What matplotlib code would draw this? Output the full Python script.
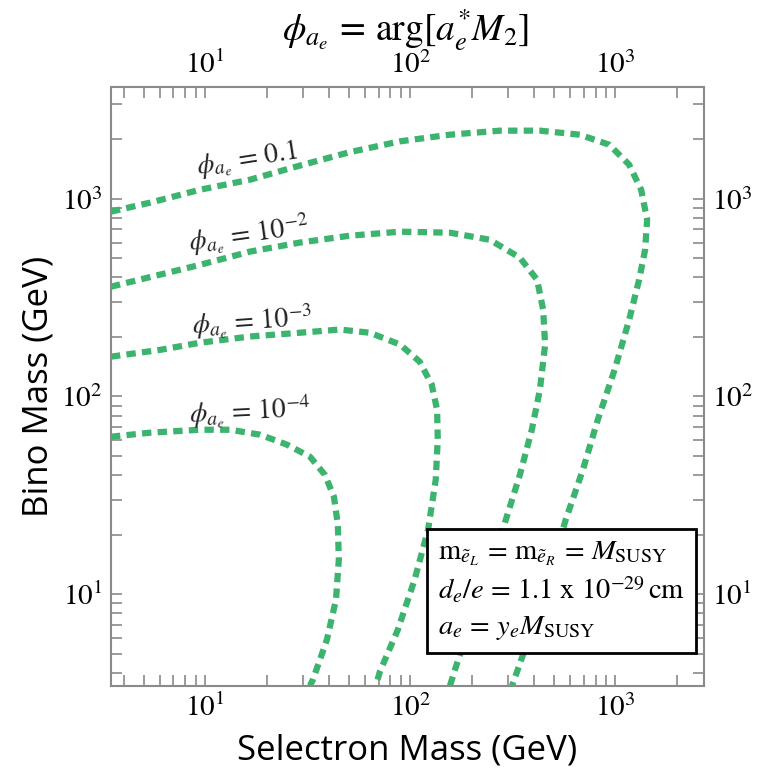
import numpy as np
import matplotlib
matplotlib.use('Agg')
import matplotlib.pyplot as plt
from matplotlib.ticker import LogLocator, NullFormatter

plt.rcParams['mathtext.fontset'] = 'stix'

# contour data: selectron mass (GeV), bino mass (GeV)
sel_1 = [3.47, 5.38, 9.43, 16.5, 28.9, 50.7, 89.1, 156, 274, 428, 670, 932, 1166, 1334,
         1427, 1395, 1304, 1166, 992, 820, 694, 572, 468, 391, 334, 313]
bino_1 = [860, 955, 1110, 1247, 1470, 1720, 1950, 2107, 2208, 2208, 2107, 1875, 1486, 1110,
          783, 552, 389, 244, 137, 76.3, 42.7, 23.8, 11.9, 6.62, 4.16, 3.45]

sel_2 = [3.47, 6.01, 9.43, 16.5, 28.9, 50.7, 89.1, 156, 244, 342, 415, 444, 454,
         428, 391, 342, 292, 244, 199, 165, 156]
bino_2 = [359, 413, 463, 540, 600, 650, 681, 673, 620, 503, 389, 275, 183,
          108, 67.9, 40.2, 23.8, 13.3, 7.44, 4.16, 3.45]

sel_3 = [3.47, 6.01, 9.43, 16.5, 28.9, 45.3, 63.5, 89.1, 111, 127, 135, 136, 133,
         122, 105, 86.9, 71.0, 67.9]
bino_3 = [159, 172, 187, 201, 210, 218, 210, 183, 150, 115, 85.7, 60.5, 38.0,
          21.2, 11.9, 6.62, 4.06, 3.45]

sel_4 = [3.47, 5.38, 9.43, 13.2, 18.5, 25.0, 32.4, 38.3, 42.4, 44.3, 44.8, 43.4, 39.2, 33.5, 32.4]
bino_4 = [62.6, 65.6, 67.9, 67.9, 64.1, 57.1, 49.6, 40.2, 31.1, 22.5, 15.0, 9.40, 5.90, 3.70, 3.45]

curves = [(sel_1, bino_1), (sel_2, bino_2), (sel_3, bino_3), (sel_4, bino_4)]

labels = [r'$\phi_{a_e}\,=\,0.1$', r'$\phi_{a_e}\,=\,10^{-2}$',
          r'$\phi_{a_e}\,=\,10^{-3}$', r'$\phi_{a_e}\,=\,10^{-4}$']
label_x = [16.0, 16.3, 17.0, 16.5]
label_y = [1560, 655, 238, 83]
label_rot = [9, 8, 4, 3]

major_ticks = [10, 100, 1000]
tick_labels = [r'$10^{1}$', r'$10^{2}$', r'$10^{3}$']

box_text = (r'$\mathrm{m}_{\tilde{e}_L}\,=\,\mathrm{m}_{\tilde{e}_R}\,=\,M_{\mathrm{SUSY}}$' + '\n' +
            r'$d_e/e\,=\,1.1\ \mathrm{x}\ 10^{-29}\,\mathrm{cm}$' + '\n' +
            r'$a_e\,=\,y_e M_{\mathrm{SUSY}}$')

green = '#3cb46e'
grey = '#8a8a8a'

fig = plt.figure(figsize=(7.69, 7.79), dpi=100)
ax = fig.add_axes([0.1443, 0.1198, 0.7711, 0.7679])

for xs, ys in curves:
    ax.plot(xs, ys, color=green, lw=4.5, linestyle=(0, (1.5, 1.0)), dash_capstyle='butt')

for txt, lx, ly, r in zip(labels, label_x, label_y, label_rot):
    ax.text(lx, ly, txt, fontsize=20, rotation=r, ha='center', va='center',
            rotation_mode='anchor', color='#222222')

ax.set_xscale('log')
ax.set_yscale('log')
ax.set_xlim(3.47, 2700)
ax.set_ylim(3.45, 3650)

ax.set_xticks(major_ticks)
ax.set_xticklabels(tick_labels)
ax.set_yticks(major_ticks)
ax.set_yticklabels(tick_labels)
ax.xaxis.set_minor_locator(LogLocator(base=10, subs=np.arange(2, 10)))
ax.yaxis.set_minor_locator(LogLocator(base=10, subs=np.arange(2, 10)))
ax.xaxis.set_minor_formatter(NullFormatter())
ax.yaxis.set_minor_formatter(NullFormatter())

ax.tick_params(which='both', direction='in', top=True, right=True,
               labeltop=True, labelright=True, length=8, width=1.2,
               color=grey, labelsize=21, pad=6)
for s in ax.spines.values():
    s.set_color(grey)
    s.set_linewidth(1.5)

ax.set_xlabel('Selectron Mass (GeV)', fontsize=25, family='Open Sans', labelpad=8)
ax.set_ylabel('Bino Mass (GeV)', fontsize=25, family='Open Sans', labelpad=4)

fig.text(0.527, 0.962, r'$\phi_{a_e}\,=\,\arg[a_e^{*} M_2]$', fontsize=27,
         ha='center', va='center')

ax.text(0.551, 0.244, box_text, transform=ax.transAxes, fontsize=20.5,
        ha='left', va='top', linespacing=1.3,
        bbox=dict(boxstyle='square,pad=0.38', facecolor='white',
                  edgecolor='black', linewidth=2))

fig.savefig('out.png', dpi=100)
